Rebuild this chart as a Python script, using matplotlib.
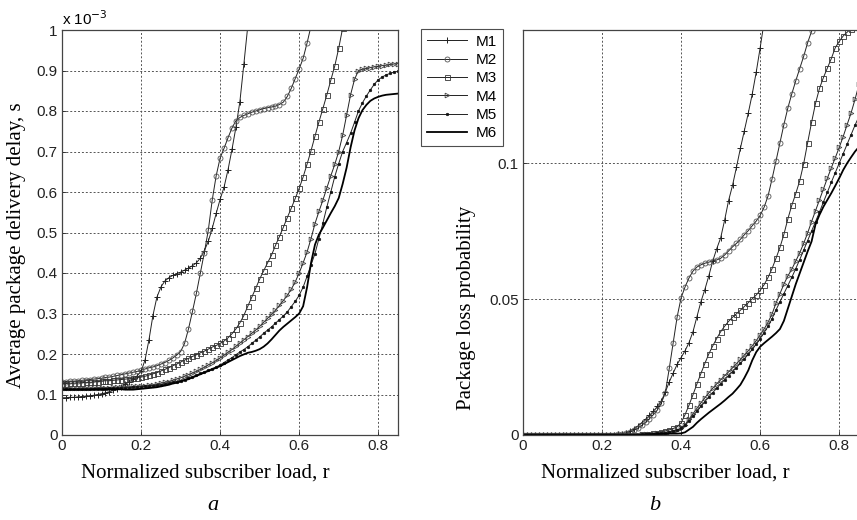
import numpy as np
import matplotlib
matplotlib.use("Agg")
import matplotlib.pyplot as plt

# ---------------- data ----------------
load = np.round(np.arange(0, 0.855, 0.01), 2)  # normalized subscriber load r
series_names = ["M1", "M2", "M3", "M4", "M5", "M6"]

# (a) average package delivery delay, in units of 1e-3 s
delay_m1 = [0.092, 0.092, 0.093, 0.093, 0.094, 0.095, 0.096, 0.097, 0.098, 0.100,
            0.102, 0.104, 0.107, 0.110, 0.114, 0.119, 0.125, 0.131, 0.138, 0.146,
            0.157, 0.185, 0.235, 0.295, 0.340, 0.365, 0.380, 0.388, 0.394, 0.398,
            0.402, 0.407, 0.412, 0.418, 0.425, 0.437, 0.455, 0.478, 0.510, 0.547,
            0.582, 0.612, 0.655, 0.705, 0.760, 0.823, 0.915, 1.010]
delay_m2 = [0.132, 0.132, 0.133, 0.133, 0.134, 0.135, 0.136, 0.137, 0.138, 0.139,
            0.140, 0.142, 0.143, 0.145, 0.147, 0.149, 0.151, 0.153, 0.155, 0.157,
            0.160, 0.163, 0.166, 0.168, 0.171, 0.175, 0.179, 0.184, 0.190, 0.197,
            0.206, 0.226, 0.262, 0.305, 0.350, 0.400, 0.450, 0.505, 0.580, 0.640,
            0.684, 0.708, 0.734, 0.758, 0.776, 0.784, 0.789, 0.793, 0.797, 0.800,
            0.803, 0.806, 0.808, 0.810, 0.812, 0.816, 0.822, 0.836, 0.856, 0.880,
            0.904, 0.930, 0.968, 1.010]
delay_m3 = [0.127, 0.127, 0.128, 0.128, 0.129, 0.129, 0.130, 0.130, 0.131, 0.132,
            0.133, 0.134, 0.134, 0.135, 0.136, 0.137, 0.138, 0.139, 0.140, 0.141,
            0.143, 0.145, 0.148, 0.151, 0.154, 0.158, 0.162, 0.166, 0.171, 0.175,
            0.180, 0.185, 0.189, 0.194, 0.198, 0.203, 0.207, 0.212, 0.217, 0.221,
            0.226, 0.232, 0.240, 0.250, 0.262, 0.277, 0.295, 0.318, 0.340, 0.362,
            0.385, 0.405, 0.425, 0.444, 0.468, 0.490, 0.513, 0.537, 0.560, 0.584,
            0.609, 0.637, 0.669, 0.702, 0.738, 0.773, 0.806, 0.840, 0.876, 0.911,
            0.955, 1.005]
delay_m4 = [0.115, 0.115, 0.115, 0.115, 0.115, 0.116, 0.116, 0.116, 0.116, 0.117,
            0.117, 0.117, 0.117, 0.118, 0.118, 0.118, 0.119, 0.119, 0.120, 0.120,
            0.121, 0.122, 0.123, 0.124, 0.126, 0.128, 0.130, 0.132, 0.135, 0.138,
            0.141, 0.145, 0.149, 0.153, 0.157, 0.162, 0.167, 0.173, 0.178, 0.184,
            0.190, 0.197, 0.204, 0.211, 0.219, 0.227, 0.235, 0.243, 0.251, 0.259,
            0.268, 0.278, 0.288, 0.298, 0.308, 0.320, 0.332, 0.345, 0.360, 0.378,
            0.400, 0.425, 0.452, 0.485, 0.522, 0.552, 0.580, 0.610, 0.640, 0.668,
            0.700, 0.740, 0.790, 0.840, 0.878, 0.900, 0.903, 0.905, 0.907, 0.909,
            0.910, 0.912, 0.913, 0.915, 0.916, 0.917]
delay_m5 = [0.113, 0.113, 0.113, 0.113, 0.113, 0.114, 0.114, 0.114, 0.114, 0.114,
            0.114, 0.114, 0.115, 0.115, 0.115, 0.116, 0.116, 0.117, 0.118, 0.118,
            0.119, 0.120, 0.121, 0.122, 0.123, 0.124, 0.126, 0.128, 0.130, 0.132,
            0.134, 0.137, 0.141, 0.144, 0.148, 0.152, 0.156, 0.160, 0.164, 0.168,
            0.173, 0.179, 0.185, 0.191, 0.198, 0.205, 0.211, 0.218, 0.226, 0.234,
            0.242, 0.251, 0.259, 0.267, 0.276, 0.285, 0.294, 0.304, 0.317, 0.330,
            0.345, 0.365, 0.392, 0.420, 0.448, 0.485, 0.523, 0.563, 0.600, 0.638,
            0.670, 0.700, 0.722, 0.745, 0.772, 0.800, 0.820, 0.837, 0.852, 0.866,
            0.877, 0.884, 0.889, 0.893, 0.896, 0.898]
delay_m6 = [0.112, 0.112, 0.112, 0.112, 0.112, 0.112, 0.112, 0.112, 0.113, 0.113,
            0.113, 0.113, 0.113, 0.113, 0.113, 0.113, 0.112, 0.112, 0.112, 0.113,
            0.114, 0.115, 0.116, 0.117, 0.118, 0.120, 0.122, 0.124, 0.127, 0.129,
            0.132, 0.135, 0.138, 0.142, 0.146, 0.150, 0.154, 0.158, 0.162, 0.166,
            0.170, 0.175, 0.180, 0.185, 0.190, 0.195, 0.199, 0.203, 0.205, 0.208,
            0.212, 0.218, 0.226, 0.236, 0.247, 0.258, 0.267, 0.275, 0.283, 0.291,
            0.300, 0.318, 0.365, 0.425, 0.470, 0.495, 0.512, 0.530, 0.548, 0.565,
            0.585, 0.620, 0.660, 0.710, 0.752, 0.782, 0.802, 0.815, 0.825, 0.831,
            0.835, 0.838, 0.840, 0.841, 0.842, 0.843]

# (b) package loss probability
loss_m1 = [0.0] * 23 + [
    0.0001, 0.0002, 0.0004, 0.0008, 0.0014, 0.0022, 0.0032,
    0.0045, 0.0058, 0.0072, 0.0088, 0.0105, 0.0125, 0.0158, 0.0195, 0.0228, 0.0260,
    0.0285, 0.0310, 0.0340, 0.0380, 0.0435, 0.0490, 0.0535, 0.0585, 0.0640, 0.0685,
    0.0725, 0.0790, 0.0862, 0.0918, 0.0985, 0.1055, 0.1120, 0.1185, 0.1255, 0.1335,
    0.1425, 0.1520]
loss_m2 = [0.0] * 23 + [
    0.0001, 0.0002, 0.0003, 0.0006, 0.0010, 0.0017, 0.0025,
    0.0035, 0.0047, 0.0060, 0.0075, 0.0092, 0.0118, 0.0155, 0.0245, 0.0340, 0.0435,
    0.0505, 0.0545, 0.0578, 0.0603, 0.0618, 0.0626, 0.0632, 0.0636, 0.0640, 0.0644,
    0.0650, 0.0662, 0.0677, 0.0692, 0.0705, 0.0720, 0.0737, 0.0752, 0.0770, 0.0787,
    0.0808, 0.0838, 0.0880, 0.0942, 0.1008, 0.1075, 0.1142, 0.1203, 0.1255, 0.1303,
    0.1348, 0.1393, 0.1443, 0.1485, 0.1525]
loss_m3 = [0.0] * 30 + [
    0.0002, 0.0003, 0.0005, 0.0007, 0.0009, 0.0012, 0.0015, 0.0019, 0.0024, 0.0030,
    0.0045, 0.0075, 0.0110, 0.0148, 0.0188, 0.0226, 0.0263, 0.0298, 0.0328, 0.0355,
    0.0380, 0.0400, 0.0418, 0.0433, 0.0446, 0.0459, 0.0473, 0.0487, 0.0501, 0.0515,
    0.0532, 0.0553, 0.0580, 0.0612, 0.0650, 0.0690, 0.0738, 0.0795, 0.0845, 0.0888,
    0.0935, 0.0998, 0.1075, 0.1150, 0.1220, 0.1275, 0.1315, 0.1350, 0.1385, 0.1425,
    0.1448, 0.1468, 0.1482, 0.1495, 0.1510]
loss_m4 = [0.0] * 30 + [
    0.0002, 0.0003, 0.0004, 0.0005, 0.0006, 0.0007, 0.0009, 0.0011, 0.0014, 0.0018,
    0.0025, 0.0038, 0.0058, 0.0078, 0.0098, 0.0118, 0.0137, 0.0155, 0.0172, 0.0188,
    0.0203, 0.0218, 0.0232, 0.0247, 0.0262, 0.0278, 0.0294, 0.0310, 0.0328, 0.0347,
    0.0368, 0.0390, 0.0415, 0.0445, 0.0485, 0.0520, 0.0555, 0.0585, 0.0610, 0.0640,
    0.0670, 0.0705, 0.0743, 0.0785, 0.0825, 0.0865, 0.0905, 0.0945, 0.0983, 0.1020,
    0.1058, 0.1098, 0.1142, 0.1185, 0.1235, 0.1290]
loss_m5 = [0.0] * 30 + [
    0.0002, 0.0003, 0.0004, 0.0005, 0.0006, 0.0007, 0.0009, 0.0011, 0.0014, 0.0018,
    0.0024, 0.0035, 0.0052, 0.0070, 0.0088, 0.0106, 0.0123, 0.0140, 0.0156, 0.0172,
    0.0188, 0.0203, 0.0218, 0.0233, 0.0248, 0.0264, 0.0280, 0.0297, 0.0315, 0.0335,
    0.0355, 0.0377, 0.0400, 0.0428, 0.0460, 0.0490, 0.0520, 0.0550, 0.0580, 0.0612,
    0.0645, 0.0680, 0.0715, 0.0750, 0.0785, 0.0820, 0.0857, 0.0893, 0.0930, 0.0965,
    0.1000, 0.1035, 0.1070, 0.1105, 0.1140, 0.1172]
loss_m6 = [0.0] * 30 + [
    0.0001, 0.0002, 0.0002, 0.0003, 0.0003, 0.0004, 0.0004, 0.0005, 0.0005, 0.0005,
    0.0006, 0.0010, 0.0020, 0.0030, 0.0045, 0.0058, 0.0070, 0.0082, 0.0093, 0.0104,
    0.0115, 0.0127, 0.0140, 0.0152, 0.0168, 0.0185, 0.0210, 0.0238, 0.0275, 0.0305,
    0.0325, 0.0338, 0.0350, 0.0362, 0.0375, 0.0390, 0.0420, 0.0465, 0.0510, 0.0555,
    0.0595, 0.0635, 0.0675, 0.0712, 0.0775, 0.0810, 0.0840, 0.0865, 0.0890, 0.0917,
    0.0945, 0.0975, 0.1000, 0.1022, 0.1043, 0.1060]

x_ticks = [0, 0.2, 0.4, 0.6, 0.8]
x_ticklabels = ["0", "0.2", "0.4", "0.6", "0.8"]
delay_yticks = [0, 0.1, 0.2, 0.3, 0.4, 0.5, 0.6, 0.7, 0.8, 0.9, 1.0]
delay_yticklabels = ["0", "0.1", "0.2", "0.3", "0.4", "0.5", "0.6", "0.7", "0.8", "0.9", "1"]
loss_yticks = [0, 0.05, 0.1]
loss_yticklabels = ["0", "0.05", "0.1"]

# ---------------- styling ----------------
SANS = "Liberation Sans"
SERIF = "Liberation Serif"
styles = [
    dict(marker="+", ms=5.0, mew=0.7, lw=0.7, color="#222222", mec="#222222", mfc="none"),
    dict(marker="o", ms=3.6, mew=0.6, lw=0.7, color="#222222", mec="#555555", mfc="none"),
    dict(marker="s", ms=3.6, mew=0.6, lw=0.7, color="#222222", mec="#333333", mfc="none"),
    dict(marker=">", ms=3.4, mew=0.6, lw=0.7, color="#222222", mec="#444444", mfc="none"),
    dict(marker=".", ms=3.6, mew=0.5, lw=0.7, color="#222222", mec="#111111", mfc="#111111"),
    dict(marker=None, lw=1.3, color="#000000"),
]

W, H = 857, 520
fig = plt.figure(figsize=(W / 100, H / 100), dpi=100)


def frac_rect(l, r, t, b):
    return [l / W, 1 - b / H, (r - l) / W, (b - t) / H]


axA = fig.add_axes(frac_rect(62, 398, 30, 435))
axB = fig.add_axes(frac_rect(523, 859, 30, 435))

delays = [delay_m1, delay_m2, delay_m3, delay_m4, delay_m5, delay_m6]
losses = [loss_m1, loss_m2, loss_m3, loss_m4, loss_m5, loss_m6]

handles = []
for name, d, st in zip(series_names, delays, styles):
    h, = axA.plot(load[:len(d)], d, label=name, clip_on=True, **st)
    handles.append(h)
for name, d, st in zip(series_names, losses, styles):
    axB.plot(load[:len(d)], d, label=name, clip_on=True, **st)

for ax, yt, ytl, ylim in [(axA, delay_yticks, delay_yticklabels, (0, 1.0)),
                          (axB, loss_yticks, loss_yticklabels, (0, 0.149))]:
    ax.set_xlim(0, 0.85)
    ax.set_ylim(*ylim)
    ax.set_xticks(x_ticks)
    ax.set_xticklabels(x_ticklabels, fontfamily=SANS, fontsize=11)
    ax.set_yticks(yt)
    ax.set_yticklabels(ytl, fontfamily=SANS, fontsize=11)
    ax.tick_params(direction="in", length=3, width=0.6, colors="#222222", pad=3)
    ax.grid(True, linestyle=(0, (2, 2)), color="#555555", linewidth=0.7)
    for s in ax.spines.values():
        s.set_color("#444444")
        s.set_linewidth(0.9)

axA.text(0.0, 1.005, r"x 10$^{-3}$", transform=axA.transAxes, ha="left", va="bottom",
         fontfamily=SANS, fontsize=11)

LBL = 15
fig.text(205 / W, 1 - 473 / H, "Normalized subscriber load, r", ha="center", va="center",
         fontfamily=SERIF, fontsize=LBL)
fig.text(665 / W, 1 - 473 / H, "Normalized subscriber load, r", ha="center", va="center",
         fontfamily=SERIF, fontsize=LBL)
fig.text(17 / W, 1 - 245 / H, "Average package delivery delay, s", ha="center", va="center",
         rotation=90, fontfamily=SERIF, fontsize=LBL)
fig.text(466 / W, 1 - 308 / H, "Package loss probability", ha="center", va="center",
         rotation=90, fontfamily=SERIF, fontsize=LBL)
fig.text(213 / W, 1 - 506 / H, "a", ha="center", va="center",
         fontfamily=SERIF, fontstyle="italic", fontsize=16)
fig.text(655 / W, 1 - 506 / H, "b", ha="center", va="center",
         fontfamily=SERIF, fontstyle="italic", fontsize=16)

leg = fig.legend(handles=handles, labels=series_names, loc="upper left",
                 bbox_to_anchor=(421 / W, 1 - 29 / H), bbox_transform=fig.transFigure,
                 prop={"family": SANS, "size": 11}, frameon=True, fancybox=False,
                 edgecolor="#222222", handlelength=2.6, handletextpad=0.6,
                 labelspacing=0.28, borderpad=0.38, borderaxespad=0.0)
leg.get_frame().set_linewidth(0.8)

fig.savefig("out.png", dpi=100)
